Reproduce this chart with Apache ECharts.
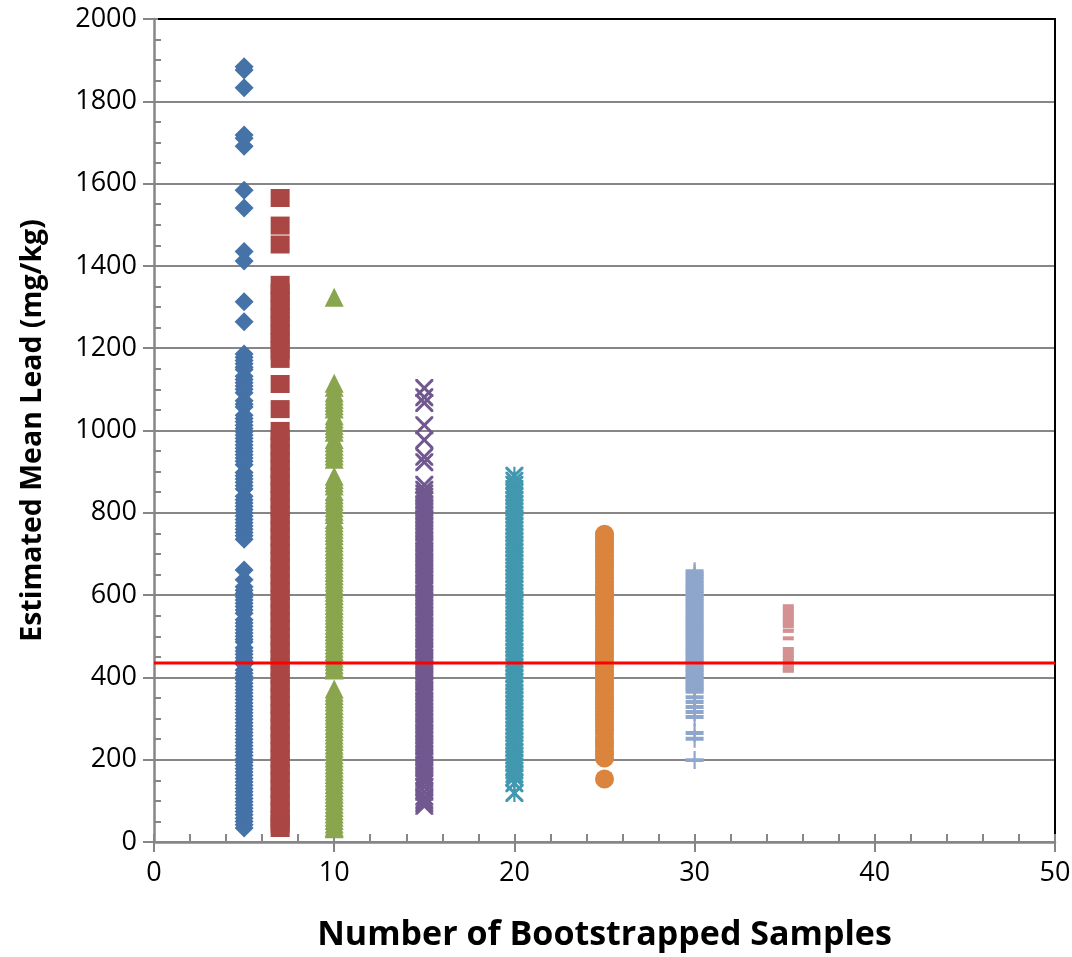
<!DOCTYPE html>
<html>
<head>
<meta charset="utf-8">
<script src="https://cdn.jsdelivr.net/npm/echarts@6/dist/echarts.min.js"></script>
<style>
html,body{margin:0;padding:0;background:#fff;}
#chart{width:1072px;height:957px;}
</style>
</head>
<body>
<div id="chart"></div>
<script>
// ---- data ----
const sampleCounts = [5, 7, 10, 15, 20, 25, 30, 35.2];
const xTicks = [0, 10, 20, 30, 40, 50];
const yTicks = [0, 200, 400, 600, 800, 1000, 1200, 1400, 1600, 1800, 2000];
const targetMeanLead = 435;

const n5 = [1884, 1876, 1833, 1718, 1710, 1691, 1584, 1541, 1435, 1412, 1313, 1264,
  1186, 1178, 1170, 1162, 1154, 1148, 1132, 1124, 1116, 1108, 1100, 1092, 1072, 1064, 1057,
  1037, 1029, 1021, 1013, 1005, 997, 989, 981, 973, 965, 957, 949, 941, 933, 925, 917,
  898, 890, 882, 874, 866, 858, 840, 832, 824, 816, 808, 800, 792, 784, 776, 768, 760, 752, 744, 736,
  661, 637, 620, 612, 604, 596, 588, 580, 572, 564, 556, 540, 532, 524, 516, 508, 500, 492, 486,
  472, 464, 456, 448, 440, 432, 418, 410, 402, 394, 386, 378, 370, 362, 354, 346, 338, 330, 322, 314,
  306, 298, 290, 282, 274, 266, 258, 250, 242, 234, 226, 218, 210, 202, 194, 186, 178, 170, 162, 154,
  146, 138, 130, 122, 114, 106, 98, 90, 82, 74, 66, 58, 50, 42, 34];
const n7 = [1565, 1498, 1452, 1354, 1335, 1315, 1295, 1275, 1255, 1235, 1215, 1195, 1174, 1113, 1052, 999, 981, 962, 944, 925, 906, 888, 870, 851, 832, 814, 795, 777, 758, 740, 721, 703, 684, 666, 647, 629, 610, 592, 573, 555, 536, 518, 499, 481, 462, 444, 425, 407, 388, 370, 351, 333, 314, 296, 277, 259, 240, 222, 203, 185, 166, 148, 129, 111, 92, 74, 55, 44, 34];
const n10 = [1324, 1115, 1105, 1092, 1084, 1076, 1068, 1060, 1052, 1036, 1028, 1020, 1012, 1004, 996,
  978, 970, 962, 954, 946, 938, 930, 889, 881, 873, 865, 852, 844, 836, 828, 820, 812, 804, 796,
  784, 776, 768, 760, 752, 744, 735, 727, 719, 711, 703, 695, 687, 679, 671, 663, 655, 647, 639, 631,
  623, 615, 607, 599, 591, 583, 575, 567, 559, 551, 543, 535, 527, 519, 511, 503, 495, 487, 479, 471,
  463, 455, 447, 439, 431, 423, 418, 372, 364, 356, 348, 340, 332, 324, 316, 308, 300, 292, 284, 276,
  268, 260, 252, 244, 236, 228, 220, 212, 204, 196, 188, 180, 172, 164, 156, 148, 140, 132, 124, 116,
  108, 100, 92, 84, 76, 68, 60, 52, 44, 36, 32];
const n15 = [1103, 1081, 1067, 1013, 977, 936, 923, 868, 856, 847, 839, 830, 821, 812, 804, 795, 786, 778, 769, 760, 752, 743, 734, 726, 717, 708, 700, 691, 682, 674, 665, 656, 648, 639, 630, 622, 613, 604, 596, 587, 578, 570, 561, 552, 544, 535, 526, 518, 509, 500, 492, 483, 474, 466, 457, 448, 440, 431, 422, 414, 405, 396, 388, 379, 370, 362, 353, 344, 336, 327, 318, 310, 301, 292, 284, 275, 266, 258, 249, 240, 232, 223, 214, 206, 197, 188, 180, 171, 162, 154, 145, 134, 122, 110, 102, 95, 88];
const n20 = [890, 878, 868, 858, 849, 840, 831, 822, 813, 804, 795, 786, 777, 768, 759, 750, 741, 732, 723, 714, 705, 696, 687, 678, 669, 660, 651, 642, 633, 624, 615, 606, 597, 588, 579, 570, 561, 552, 543, 534, 525, 516, 507, 498, 489, 480, 471, 462, 453, 444, 435, 426, 417, 408, 399, 390, 381, 372, 363, 354, 345, 336, 327, 318, 309, 300, 291, 282, 273, 264, 255, 246, 237, 228, 219, 210, 201, 192, 183, 174, 165, 157, 143, 119];
const n25 = [748, 740, 731, 722, 713, 704, 695, 686, 677, 668, 659, 650, 641, 632, 623, 614, 605, 596, 587, 578, 569, 560, 551, 542, 533, 524, 515, 506, 497, 488, 479, 470, 461, 452, 443, 434, 425, 416, 407, 398, 389, 380, 371, 362, 353, 344, 335, 326, 317, 308, 299, 290, 281, 272, 263, 250, 241, 232, 222, 213, 204, 153];
const n30 = [658, 652, 646, 640, 634, 628, 622, 616, 610, 604, 598, 592, 586, 580, 574, 568, 562, 556, 550, 544, 538, 532, 526, 520, 514, 508, 502, 496, 490, 484, 478, 472, 466, 460, 454, 448, 442, 436, 430, 424, 418, 412, 406, 400, 394, 388, 382, 376, 371, 365, 352, 340, 328, 316, 304, 265, 251, 199];
const n35 = [573, 566, 559, 552, 545, 538, 531, 524, 513, 495, 469, 461, 454, 447, 440, 433, 426, 419, 416];

// ---- styling ----
const FONT = 'Open Sans';
const GRAY = '#868686';
const X_PATH = 'path://M0,0 L12,0 L50,38 L88,0 L100,0 L100,12 L62,50 L100,88 L100,100 L88,100 L50,62 L12,100 L0,100 L0,88 L38,50 L0,12 Z';
const STAR_PATH = 'path://M0,0 L12,0 L50,38 L88,0 L100,0 L100,12 L62,50 L100,88 L100,100 L88,100 L50,62 L12,100 L0,100 L0,88 L38,50 L0,12 Z M44,0 L56,0 L56,100 L44,100 Z';
const PLUS_PATH = 'path://M44,0 L56,0 L56,39 L100,39 L100,61 L56,61 L56,100 L44,100 L44,61 L0,61 L0,39 L44,39 Z';

const seriesDefs = [
  {vals: n5,  color: '#4572A7', symbol: 'diamond', size: [19, 19]},
  {vals: n7,  color: '#AA4643', symbol: 'rect', size: [19, 18]},
  {vals: n10, color: '#89A54E', symbol: 'triangle', size: [19, 19]},
  {vals: n15, color: '#71588F', symbol: X_PATH, size: [18, 18]},
  {vals: n20, color: '#4198AF', symbol: STAR_PATH, size: [18, 18]},
  {vals: n25, color: '#DB843D', symbol: 'circle', size: [19, 19]},
  {vals: n30, color: '#8FA6CC', symbol: PLUS_PATH, size: [18, 18]},
  {vals: n35, color: '#D39191', symbol: 'rect', size: [11, 4]}
];

const series = seriesDefs.map((d, i) => ({
  type: 'scatter',
  symbol: d.symbol,
  symbolSize: d.size,
  itemStyle: {color: d.color, opacity: 1},
  data: d.vals.map(v => [sampleCounts[i], v]),
  z: 3
}));
series.push({
  type: 'line',
  data: [[xTicks[0], targetMeanLead], [xTicks[xTicks.length - 1], targetMeanLead]],
  symbol: 'none',
  lineStyle: {color: '#FF0000', width: 3},
  z: 10
});

const xMin = xTicks[0], xMax = xTicks[xTicks.length - 1], xInt = xTicks[1] - xTicks[0];
const yMin = yTicks[0], yMax = yTicks[yTicks.length - 1], yInt = yTicks[1] - yTicks[0];

const option = {
  animation: false,
  backgroundColor: '#fff',
  grid: {left: 154, right: 17, top: 19, bottom: 115, containLabel: false, outerBoundsMode: 'none'},
  xAxis: [
    {
      type: 'value', min: xMin, max: xMax, interval: xInt, position: 'bottom',
      axisLine: {show: true, onZero: false, lineStyle: {color: GRAY, width: 2.5}},
      axisTick: {show: true, inside: false, length: 10, lineStyle: {color: GRAY, width: 2}},
      axisLabel: {fontSize: 27, color: '#000', margin: 18, fontFamily: FONT, formatter: v => String(v)},
      splitLine: {show: false},
      name: 'Number of Bootstrapped Samples', nameLocation: 'middle', nameGap: 76,
      nameTextStyle: {fontSize: 34, fontWeight: 'bold', color: '#000', fontFamily: FONT}
    },
    {
      type: 'value', min: xMin, max: xMax, interval: xInt, position: 'bottom',
      axisLine: {show: false, onZero: false},
      axisTick: {show: true, inside: true, length: 8, lineStyle: {color: GRAY, width: 2}},
      minorTick: {show: true, splitNumber: 5, length: 8, lineStyle: {color: GRAY, width: 2}},
      axisLabel: {show: false}, splitLine: {show: false}
    },
    {
      type: 'value', min: xMin, max: xMax, position: 'top',
      axisLine: {show: true, onZero: false, lineStyle: {color: '#000', width: 2}},
      axisTick: {show: false}, axisLabel: {show: false}, splitLine: {show: false}
    }
  ],
  yAxis: [
    {
      type: 'value', min: yMin, max: yMax, interval: yInt, position: 'left',
      axisLine: {show: true, onZero: false, lineStyle: {color: GRAY, width: 2.5}},
      axisTick: {show: true, inside: false, length: 11, lineStyle: {color: GRAY, width: 2}},
      axisLabel: {fontSize: 27, color: '#000', margin: 17, fontFamily: FONT, formatter: v => String(v)},
      splitLine: {show: true, lineStyle: {color: GRAY, width: 2}},
      name: 'Estimated Mean Lead (mg/kg)', nameLocation: 'middle', nameGap: 107,
      nameTextStyle: {fontSize: 28.5, fontWeight: 'bold', color: '#000', fontFamily: FONT}
    },
    {
      type: 'value', min: yMin, max: yMax, interval: yInt, position: 'left',
      axisLine: {show: false, onZero: false},
      axisTick: {show: true, inside: true, length: 4, lineStyle: {color: GRAY, width: 2}},
      minorTick: {show: true, splitNumber: 4, length: 7, lineStyle: {color: GRAY, width: 2}},
      axisLabel: {show: false}, splitLine: {show: false}
    },
    {
      type: 'value', min: yMin, max: yMax, position: 'right',
      axisLine: {show: true, onZero: false, lineStyle: {color: '#000', width: 2}},
      axisTick: {show: false}, axisLabel: {show: false}, splitLine: {show: false}
    }
  ],
  series: series
};

const chart = echarts.init(document.getElementById('chart'), null, {renderer: 'canvas'});
chart.setOption(option);
</script>
</body>
</html>
